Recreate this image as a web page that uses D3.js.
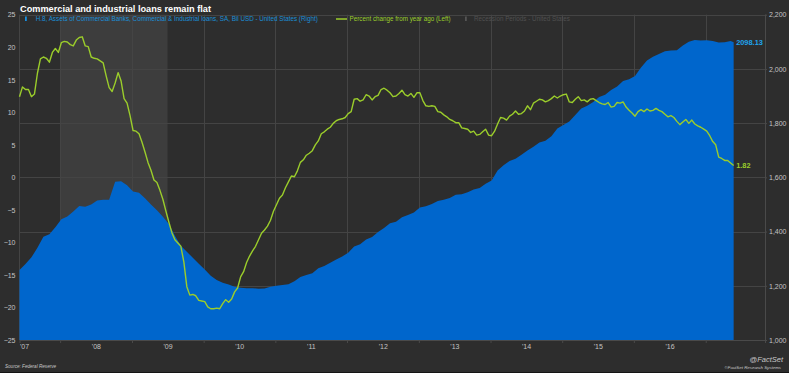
<!DOCTYPE html>
<html lang="en">
<head>
<meta charset="UTF-8" />
<title>Commercial and industrial loans remain flat</title>
<script src="https://cdn.jsdelivr.net/npm/d3@7"></script>
<style>
  html, body { margin: 0; padding: 0; background: #2d2d2d; }
  svg { display: block; font-family: "Liberation Sans", Arial, sans-serif; }
</style>
</head>
<body>
<div id="container"></div>
<script>
// percent change from year ago (left axis), semi-monthly from Jun 2007 to May 2017
const greenVals = [
  12.4, 13.9, 13.5, 13.5, 12.4, 12.8, 16.0, 18.2, 18.5, 18.3,
  17.7, 19.2, 19.8, 19.2, 20.7, 20.9, 20.8, 20.4, 20.2, 21.1,
  21.5, 21.6, 20.2, 20.1, 18.5, 18.3, 18.2, 17.9, 17.6, 15.6,
  13.8, 13.2, 14.5, 16.1, 14.8, 12.1, 11.4, 9.5, 7.2, 7.1,
  6.7, 5.4, 3.9, 2.3, 1.1, -0.4, -0.8, -2.0, -3.4, -5.2,
  -6.9, -8.5, -9.6, -10.1, -10.6, -13.0, -16.8, -18.1, -18.0, -18.2,
  -18.9, -19.0, -19.1, -19.9, -20.2, -20.2, -20.1, -20.2, -19.4, -18.8,
  -19.2, -18.7, -17.6, -17.0, -15.3, -14.5, -13.1, -12.1, -11.3, -10.6,
  -9.6, -8.6, -8.1, -7.5, -6.6, -5.2, -4.2, -3.2, -2.7, -1.6,
  -0.7, 0.2, 0.1, 1.0, 2.3, 2.7, 3.4, 3.7, 4.1, 5.0,
  5.6, 6.7, 7.0, 7.4, 7.7, 8.3, 8.7, 8.9, 9.0, 9.2,
  9.8, 10.1, 12.0, 12.1, 11.7, 11.9, 12.7, 12.5, 11.9, 12.4,
  12.6, 13.5, 13.7, 13.4, 13.0, 12.4, 12.5, 12.9, 13.4, 12.7,
  12.5, 12.9, 12.3, 13.0, 13.0, 11.8, 11.0, 10.9, 11.0, 10.9,
  10.1, 10.0, 9.6, 9.3, 8.9, 8.7, 8.4, 8.4, 7.6, 7.5,
  7.4, 6.9, 7.1, 6.5, 6.6, 7.0, 7.4, 6.5, 6.4, 7.1,
  8.2, 9.2, 9.1, 8.8, 9.4, 9.7, 10.2, 9.7, 9.8, 10.2,
  11.0, 10.4, 11.4, 11.7, 12.0, 11.9, 11.6, 11.8, 12.1, 12.5,
  12.2, 12.5, 12.7, 12.8, 11.6, 11.5, 12.0, 12.4, 11.8, 11.9,
  11.6, 12.0, 12.1, 11.8, 11.5, 11.3, 11.2, 11.5, 10.8, 10.9,
  11.5, 11.4, 11.6, 10.8, 10.3, 9.9, 9.4, 10.1, 10.4, 10.1,
  10.5, 10.2, 10.3, 10.6, 10.3, 10.1, 9.7, 9.3, 9.5, 9.2,
  8.6, 8.1, 8.5, 8.9, 8.3, 8.8, 8.2, 7.9, 7.7, 7.4,
  7.1, 6.4, 5.5, 5.0, 3.1, 2.9, 2.6, 2.6, 2.2, 1.82
]

// C&I loans, bil USD (right axis), monthly, last value is the latest week
const blueVals = [
  1258, 1280, 1305, 1340, 1381, 1390, 1416, 1445, 1456, 1474,
  1494, 1492, 1500, 1515, 1517, 1517, 1584, 1586, 1571, 1548,
  1543, 1523, 1500, 1479, 1455, 1428, 1385, 1348, 1326, 1303,
  1281, 1260, 1237, 1221, 1211, 1205, 1196, 1193, 1191, 1191,
  1189, 1190, 1196, 1200, 1203, 1206, 1217, 1232, 1240, 1246,
  1265, 1273, 1285, 1297, 1308, 1322, 1345, 1353, 1371, 1380,
  1398, 1413, 1431, 1436, 1453, 1461, 1470, 1489, 1493, 1502,
  1513, 1517, 1524, 1536, 1538, 1545, 1555, 1561, 1576, 1588,
  1625, 1645, 1660, 1669, 1683, 1699, 1713, 1729, 1735, 1752,
  1780, 1793, 1806, 1830, 1854, 1864, 1878, 1896, 1905, 1922,
  1935, 1955, 1962, 1974, 2005, 2031, 2045, 2055, 2065, 2068,
  2069, 2086, 2100, 2107, 2105, 2106, 2103, 2097, 2098, 2103,
  2098.13
]

const recession = [new Date(2008, 0, 1), new Date(2009, 6, 1)]
const leftTicks = [-25, -20, -15, -10, -5, 0, 5, 10, 15, 20, 25]
const rightTicks = [1000, 1200, 1400, 1600, 1800, 2000, 2200]
const yearLabels = ["'07", "'08", "'09", "'10", "'11", "'12", "'13", "'14", "'15", "'16"]

const width = 789
const height = 373
const plotLeft = 19.5
const plotRight = 765
const plotTop = 14.7
const plotBottom = 340

// time grid: half-month steps from the first observation
const startDate = new Date(2007, 5, 8)
const endDate = new Date(2017, 9, 30)
const stepMs = 365.25 / 24 * 86400000
const dates = greenVals.map((v, i) => new Date(startDate.getTime() + i * stepMs))
const blueDates = blueVals.map((v, j) => j < blueVals.length - 1 ? dates[2 * j] : dates[dates.length - 1])

const x = d3.scaleTime().domain([startDate, endDate]).range([plotLeft, plotRight])
const yL = d3.scaleLinear().domain([-25, 25]).range([plotBottom, plotTop])
const yR = d3.scaleLinear().domain([1000, 2200]).range([plotBottom, plotTop])

const svg = d3.create('svg')
  .attr('width', width)
  .attr('height', height)
  .attr('viewBox', [0, 0, width, height])

svg.append('rect')
  .attr('width', width).attr('height', height)
  .attr('fill', '#2d2d2d')
svg.append('line')
  .attr('x1', 0).attr('x2', width)
  .attr('y1', height - 0.5).attr('y2', height - 0.5)
  .attr('stroke', '#141414')

// recession shading
svg.append('rect')
  .attr('x', x(recession[0]))
  .attr('y', plotTop)
  .attr('width', x(recession[1]) - x(recession[0]))
  .attr('height', plotBottom - plotTop)
  .attr('fill', '#3d3d3d')

// grid
const years = d3.range(2008, 2018).map(yr => new Date(yr, 0, 1))
svg.append('g')
  .attr('stroke', '#444')
  .attr('stroke-width', 1)
  .selectAll('line.h')
  .data(rightTicks)
  .join('line')
  .attr('x1', plotLeft).attr('x2', plotRight)
  .attr('y1', d => Math.round(yR(d)) + 0.5).attr('y2', d => Math.round(yR(d)) + 0.5)
svg.append('g')
  .attr('stroke', '#444')
  .selectAll('line')
  .data(years)
  .join('line')
  .attr('x1', d => Math.round(x(d)) + 0.5).attr('x2', d => Math.round(x(d)) + 0.5)
  .attr('y1', plotTop).attr('y2', plotBottom)
svg.append('line')
  .attr('x1', plotLeft).attr('x2', plotLeft)
  .attr('y1', plotTop).attr('y2', plotBottom)
  .attr('stroke', '#444')

// blue area
const area = d3.area()
  .x((d, i) => x(blueDates[i]))
  .y0(yR(1000))
  .y1(d => yR(d))
svg.append('path')
  .datum(blueVals)
  .attr('fill', '#0066cc')
  .attr('d', area)

// green line
const line = d3.line()
  .x((d, i) => x(dates[i]))
  .y(d => yL(d))
svg.append('path')
  .datum(greenVals)
  .attr('fill', 'none')
  .attr('stroke', '#9bcd2b')
  .attr('stroke-width', 1.4)
  .attr('stroke-linejoin', 'round')
  .attr('d', line)

// right axis line
svg.append('line')
  .attr('x1', plotRight + 0.5).attr('x2', plotRight + 0.5)
  .attr('y1', plotTop).attr('y2', plotBottom)
  .attr('stroke', '#4a4a4a')

// axes
const axisColor = '#c4c4c4'
const gL = svg.append('g')
  .attr('transform', `translate(${plotLeft - 4}, 0)`)
  .call(d3.axisLeft(yL).tickValues(leftTicks).tickSize(0).tickPadding(0))
gL.select('.domain').remove()
gL.selectAll('text').attr('fill', axisColor).attr('font-size', 7).attr('font-family', null)

const gR = svg.append('g')
  .attr('transform', `translate(${plotRight}, 0)`)
  .call(d3.axisRight(yR).tickValues(rightTicks).tickFormat(d3.format(',')).tickSize(2).tickPadding(2))
gR.select('.domain').remove()
gR.selectAll('line').attr('stroke', '#4a4a4a')
gR.selectAll('text').attr('fill', axisColor).attr('font-size', 7).attr('font-family', null)

const gX = svg.append('g')
  .attr('transform', `translate(0, ${plotBottom})`)
  .call(d3.axisBottom(x).tickValues(years).tickFormat('').tickSize(3))
gX.select('.domain').attr('stroke', '#4a4a4a')
gX.selectAll('line').attr('stroke', '#4a4a4a')

const midYears = d3.range(2007, 2017).map(yr => new Date(yr, 6, 1))
const gX2 = svg.append('g')
  .attr('transform', `translate(0, ${plotBottom})`)
  .call(d3.axisBottom(x).tickValues(midYears).tickFormat((d, i) => yearLabels[i]).tickSize(0).tickPadding(4))
gX2.select('.domain').remove()
gX2.selectAll('text').attr('fill', axisColor).attr('font-size', 7).attr('font-family', null)

// title and legend
svg.append('text')
  .attr('x', 20).attr('y', 12.3)
  .attr('fill', '#ffffff')
  .attr('font-weight', 'bold')
  .attr('font-size', 9.2)
  .text('Commercial and industrial loans remain flat')

const legend = svg.append('g').attr('font-size', 6.3)
legend.append('rect').attr('x', 25).attr('y', 16.5).attr('width', 1.8).attr('height', 4.5).attr('fill', '#1a8fe0')
legend.append('text').attr('x', 35.7).attr('y', 21.3).attr('fill', '#1a8fd8')
  .text('H.8, Assets of Commercial Banks, Commercial & Industrial loans, SA, Bil USD - United States  (Right)')
legend.append('line').attr('x1', 336).attr('x2', 347).attr('y1', 19).attr('y2', 19)
  .attr('stroke', '#9bcd2b').attr('stroke-width', 1.5)
legend.append('text').attr('x', 349.5).attr('y', 21.3).attr('fill', '#9bcd2b')
  .text('Percent change from year ago  (Left)')
legend.append('rect').attr('x', 465).attr('y', 16.5).attr('width', 1.8).attr('height', 4.5).attr('fill', '#555')
legend.append('text').attr('x', 474).attr('y', 21.3).attr('fill', '#505050')
  .text('Recession Periods - United States')

// end labels
const lastBlue = blueVals[blueVals.length - 1]
const lastGreen = greenVals[greenVals.length - 1]
svg.append('text')
  .attr('x', x(dates[dates.length - 1]) + 2.5).attr('y', yR(lastBlue) + 2.7)
  .attr('fill', '#1ea4ee').attr('font-weight', 'bold').attr('font-size', 7.4)
  .text(d3.format('.2f')(lastBlue))
svg.append('text')
  .attr('x', x(dates[dates.length - 1]) + 2.5).attr('y', yL(lastGreen) + 2.7)
  .attr('fill', '#9bcd2b').attr('font-weight', 'bold').attr('font-size', 7.4)
  .text(d3.format('.2f')(lastGreen))

// footer
svg.append('text')
  .attr('x', 5).attr('y', 368)
  .attr('fill', '#c8c8c8').attr('font-size', 4.6).attr('font-style', 'italic')
  .text('Source: Federal Reserve')
svg.append('text')
  .attr('x', 783).attr('y', 362).attr('text-anchor', 'end')
  .attr('fill', '#c8c8c8').attr('font-size', 7.5).attr('font-style', 'italic')
  .text('@FactSet')
svg.append('text')
  .attr('x', 781).attr('y', 368.5).attr('text-anchor', 'end')
  .attr('fill', '#c8c8c8').attr('font-size', 4.4).attr('font-style', 'italic')
  .text('©FactSet Research Systems')

document.getElementById('container').append(svg.node())
</script>
</body>
</html>
